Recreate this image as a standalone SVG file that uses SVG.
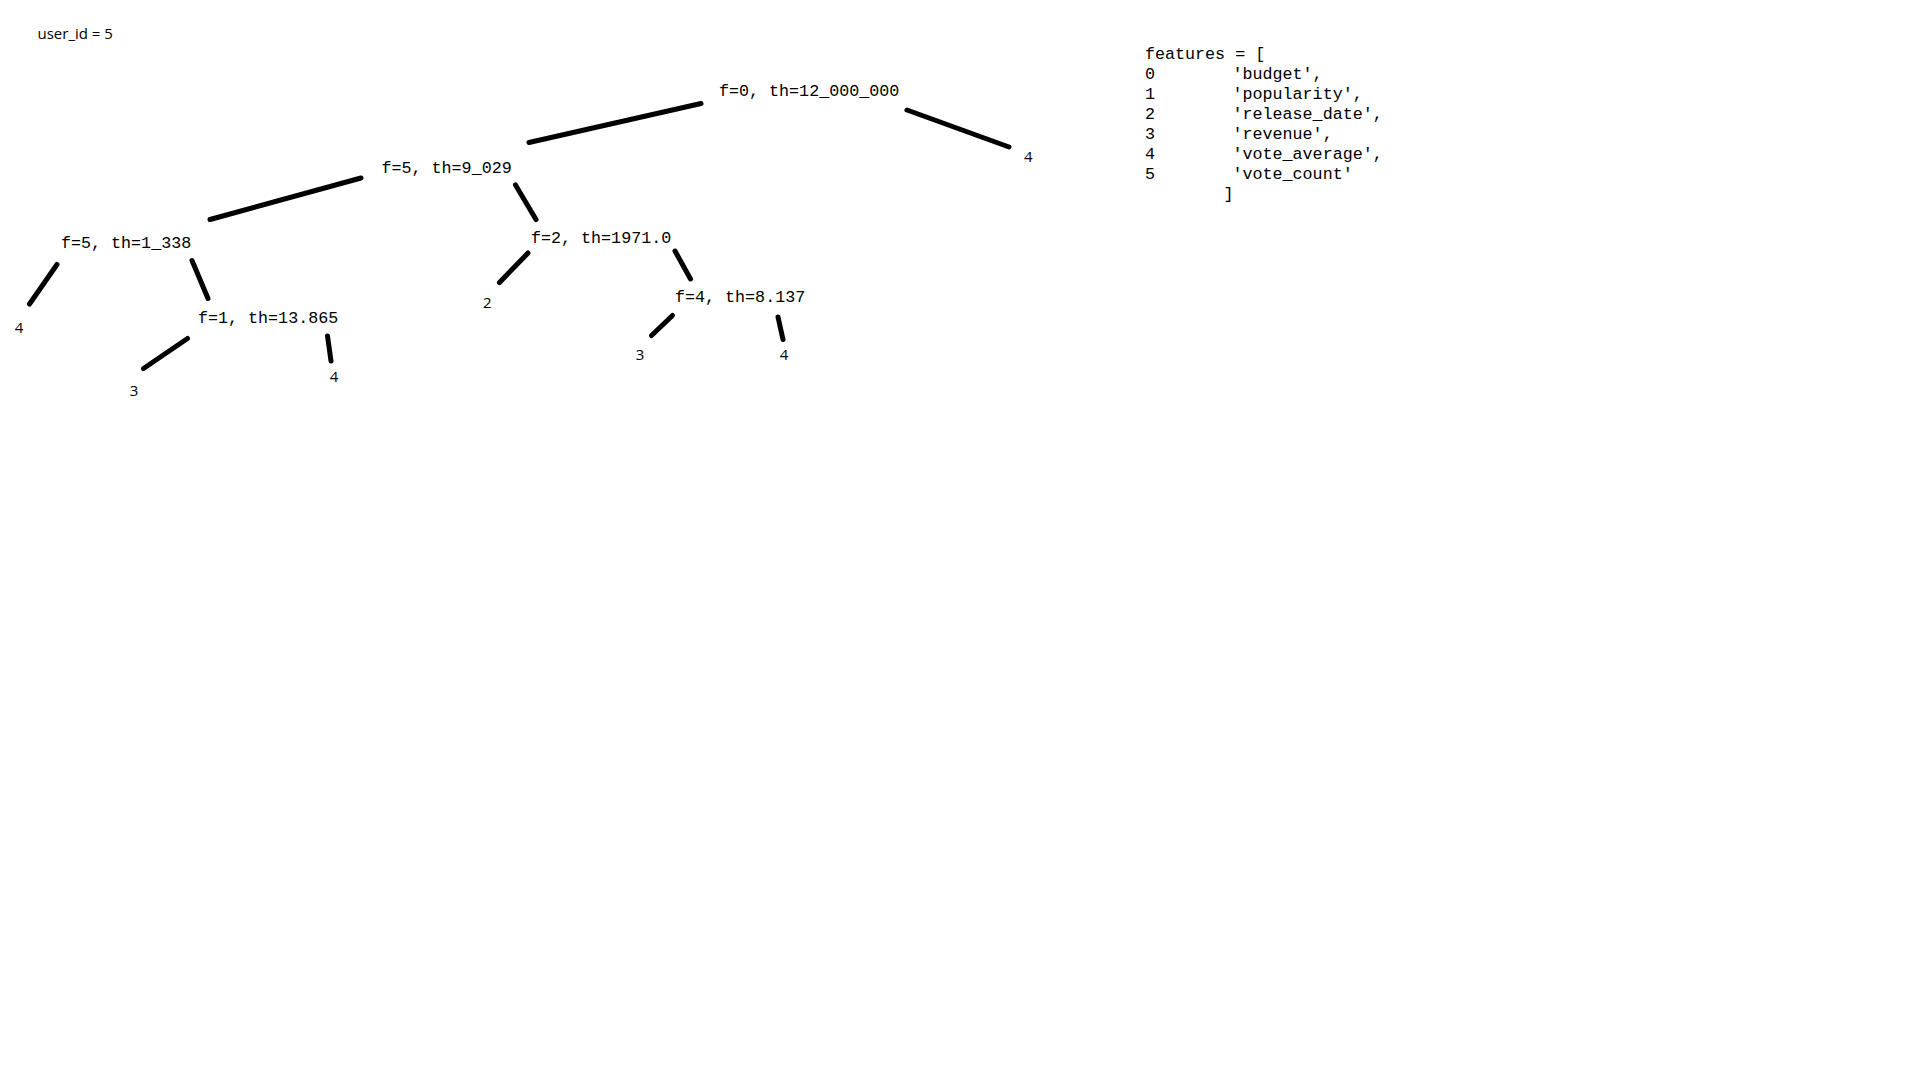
<svg xmlns="http://www.w3.org/2000/svg" width="1920" height="1080" viewBox="0 0 1920 1080">
<style>
.mono{font-family:"Liberation Mono","Courier New",monospace;font-size:16.7px;fill:#000}
.sans{font-family:"Open Sans","Liberation Sans",Arial,sans-serif;font-size:15px;fill:#000}
.edge{stroke:#000;stroke-width:5;stroke-linecap:round;fill:none}
</style>
<rect width="1920" height="1080" fill="#fff"/>
<text class="sans" x="37.5" y="39">user_id = 5</text>
<g id="connectors">
<line class="edge" x1="529" y1="142.5" x2="701" y2="103.5"/>
<line class="edge" x1="907" y1="110" x2="1009" y2="147"/>
<line class="edge" x1="210" y1="219.5" x2="361" y2="178"/>
<line class="edge" x1="515.5" y1="185" x2="536" y2="219.5"/>
<line class="edge" x1="57" y1="264.5" x2="29.5" y2="304"/>
<line class="edge" x1="192" y1="260.5" x2="208" y2="298.5"/>
<line class="edge" x1="187.5" y1="338.5" x2="143.5" y2="368.5"/>
<line class="edge" x1="327.5" y1="336" x2="331" y2="361"/>
<line class="edge" x1="528" y1="253" x2="499.5" y2="282.5"/>
<line class="edge" x1="675" y1="251" x2="690.5" y2="279"/>
<line class="edge" x1="672.5" y1="315.5" x2="651.5" y2="335.5"/>
<line class="edge" x1="778" y1="317" x2="783" y2="339.5"/>
</g>
<g id="node-root"><text class="mono" x="719" y="95.5">f=0, th=12_000_000</text></g>
<g id="node-f5-9029"><text class="mono" x="381.5" y="172.5">f=5, th=9_029</text></g>
<g id="node-f5-1338"><text class="mono" x="61" y="247.5">f=5, th=1_338</text></g>
<g id="node-f1-13865"><text class="mono" x="198" y="322.5">f=1, th=13.865</text></g>
<g id="node-f2-1971"><text class="mono" x="531" y="242.7">f=2, th=1971.0</text></g>
<g id="node-f4-8137"><text class="mono" x="675" y="301.7">f=4, th=8.137</text></g>
<g id="leaf-root-right"><text class="sans" x="1024" y="161.7">4</text></g>
<g id="leaf-1338-left"><text class="sans" x="14.8" y="333.3">4</text></g>
<g id="leaf-13865-left"><text class="sans" x="129.8" y="396">3</text></g>
<g id="leaf-13865-right"><text class="sans" x="329.8" y="381.7">4</text></g>
<g id="leaf-1971-left"><text class="sans" x="483" y="308.3">2</text></g>
<g id="leaf-8137-left"><text class="sans" x="635.8" y="360">3</text></g>
<g id="leaf-8137-right"><text class="sans" x="779.8" y="360">4</text></g>
<g id="features">
<text class="mono" x="1145" y="59.3">features = [</text>
<text class="mono" x="1145" y="78.5">0</text><text class="mono" x="1232.5" y="78.5">'budget',</text>
<text class="mono" x="1145" y="98.5">1</text><text class="mono" x="1232.5" y="98.5">'popularity',</text>
<text class="mono" x="1145" y="118.5">2</text><text class="mono" x="1232.5" y="118.5">'release_date',</text>
<text class="mono" x="1145" y="139">3</text><text class="mono" x="1232.5" y="139">'revenue',</text>
<text class="mono" x="1145" y="159.3">4</text><text class="mono" x="1232.5" y="159.3">'vote_average',</text>
<text class="mono" x="1145" y="179">5</text><text class="mono" x="1232.5" y="179">'vote_count'</text>
<text class="mono" x="1223.4" y="198.5">]</text>
</g>
</svg>
